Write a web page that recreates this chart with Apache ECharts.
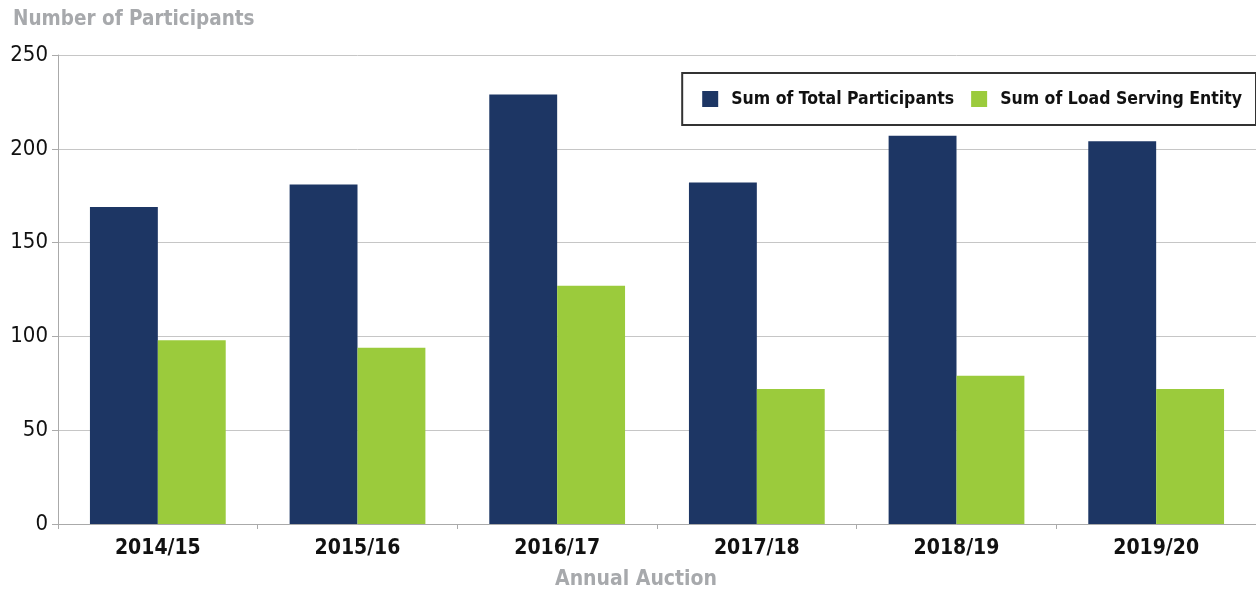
<!DOCTYPE html>
<html>
<head>
<meta charset="utf-8">
<script src="https://cdn.jsdelivr.net/npm/echarts@6/dist/echarts.min.js"></script>
<style>
  html, body { margin: 0; padding: 0; background: #fff; }
  #chart { width: 1256px; height: 595px; }
</style>
</head>
<body>
<div id="chart"></div>
<script>
// data
var auctions = ['2014/15', '2015/16', '2016/17', '2017/18', '2018/19', '2019/20'];
var totalParticipants = [169, 181, 229, 182, 207, 204];
var loadServingEntity = [98, 94, 127, 72, 79, 72];

var font = '"DejaVu Sans Condensed", "Liberation Sans Narrow", "Roboto", sans-serif';

var myChart = echarts.init(document.getElementById('chart'));
var option = {
  animation: false,
  textStyle: { fontFamily: font },
  title: {
    text: 'Number of Participants',
    left: 8,
    top: 4,
    textStyle: { fontFamily: font, fontSize: 20.5, fontWeight: 'bold', color: '#a7a9ac' }
  },
  legend: {
    orient: 'horizontal',
    right: 0,
    top: 73,
    padding: [17, 14, 17, 20],
    borderColor: '#333',
    borderWidth: 2,
    itemWidth: 16,
    itemHeight: 16,
    itemGap: 17,
    icon: 'rect',
    textStyle: { fontFamily: font, fontSize: 17.5, fontWeight: 'bold', color: '#111', padding: [0, 0, 0, 8] },
    data: ['Sum of Total Participants', 'Sum of Load Serving Entity']
  },
  grid: { left: 58, right: 0, top: 55, bottom: 71, containLabel: false, outerBoundsMode: 'none' },
  xAxis: {
    type: 'category',
    data: auctions,
    name: 'Annual Auction',
    nameLocation: 'middle',
    nameGap: 45,
    nameTextStyle: { fontFamily: font, fontSize: 21, fontWeight: 'bold', color: '#a7a9ac', padding: [0, 42, 0, 0] },
    axisLine: { lineStyle: { color: '#aaaaaa', width: 1 } },
    axisTick: { show: true, length: 5, lineStyle: { color: '#aaaaaa' } },
    axisLabel: { fontFamily: font, fontSize: 21, fontWeight: 'bold', color: '#111', margin: 14 }
  },
  yAxis: {
    type: 'value',
    min: 0,
    max: 250,
    interval: 50,
    axisLine: { show: true, lineStyle: { color: '#aaaaaa', width: 1 } },
    axisTick: { show: true, length: 6, lineStyle: { color: '#aaaaaa' } },
    axisLabel: { fontFamily: font, fontSize: 22, color: '#111', margin: 10 },
    splitLine: { lineStyle: { color: '#c6c6c6', width: 1 } }
  },
  series: [
    {
      name: 'Sum of Total Participants',
      type: 'bar',
      data: totalParticipants,
      barWidth: '34%',
      barGap: '0%',
      itemStyle: { color: '#1d3664' }
    },
    {
      name: 'Sum of Load Serving Entity',
      type: 'bar',
      data: loadServingEntity,
      barWidth: '34%',
      itemStyle: { color: '#9bcb3c' }
    }
  ]
};
myChart.setOption(option);
</script>
</body>
</html>
